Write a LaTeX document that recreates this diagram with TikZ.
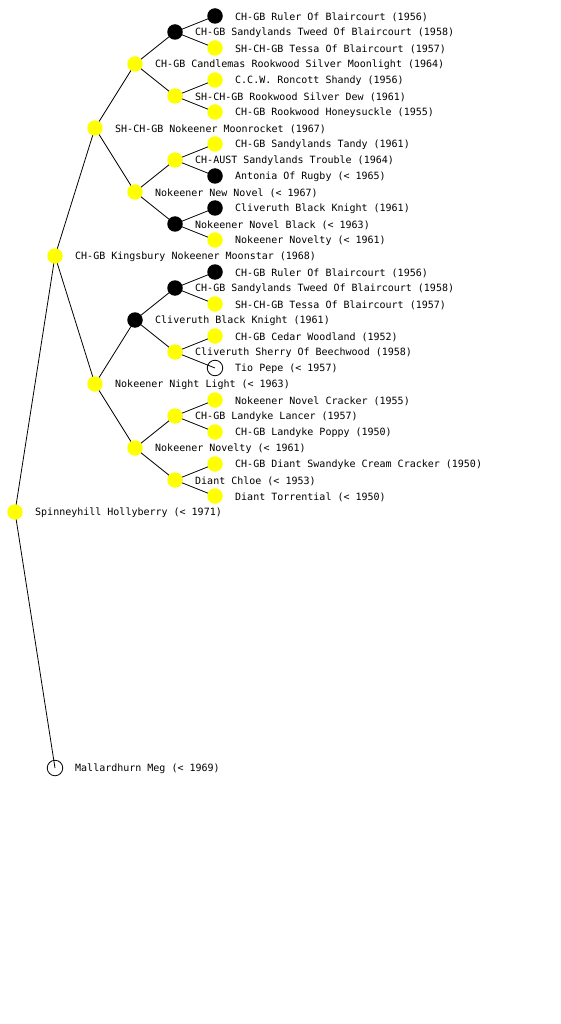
\documentclass[tikz,border=0pt]{standalone}
\usepackage{fontspec}
\setmonofont{DejaVu Sans Mono}
\pgfdeclarelayer{bg}
\pgfsetlayers{bg,main}
\definecolor{dogyellow}{RGB}{255,255,0}
\tikzset{
  dot/.style={circle,minimum size=15.5pt,inner sep=0pt,outer sep=0pt},
  ydot/.style={dot,fill=dogyellow},
  bdot/.style={dot,fill=black},
  wdot/.style={dot,draw=black,line width=0.8pt},
  lbl/.style={anchor=west,inner sep=0pt,font=\ttfamily\fontsize{10pt}{10pt}\selectfont},
  edge/.style={draw=black,line width=0.8pt}
}
\begin{document}
\begin{tikzpicture}[x=1pt,y=-1pt]
\useasboundingbox (0,0) rectangle (560,1024);
% root
\node[ydot] (r) at (15,512) {};
% gen1
\node[ydot] (a1) at (55,256) {};
\node[wdot] (a2) at (55,768) {};
% gen2
\node[ydot] (b1) at (95,128) {};
\node[ydot] (b2) at (95,384) {};
% gen3
\node[ydot] (c1) at (135,64) {};
\node[ydot] (c2) at (135,192) {};
\node[bdot] (c3) at (135,320) {};
\node[ydot] (c4) at (135,448) {};
% gen4
\node[bdot] (d1) at (175,32) {};
\node[ydot] (d2) at (175,96) {};
\node[ydot] (d3) at (175,160) {};
\node[bdot] (d4) at (175,224) {};
\node[bdot] (d5) at (175,288) {};
\node[ydot] (d6) at (175,352) {};
\node[ydot] (d7) at (175,416) {};
\node[ydot] (d8) at (175,480) {};
% gen5
\node[bdot] (e1) at (215,16) {};
\node[ydot] (e2) at (215,48) {};
\node[ydot] (e3) at (215,80) {};
\node[ydot] (e4) at (215,112) {};
\node[ydot] (e5) at (215,144) {};
\node[bdot] (e6) at (215,176) {};
\node[bdot] (e7) at (215,208) {};
\node[ydot] (e8) at (215,240) {};
\node[bdot] (e9) at (215,272) {};
\node[ydot] (e10) at (215,304) {};
\node[ydot] (e11) at (215,336) {};
\node[wdot] (e12) at (215,368) {};
\node[ydot] (e13) at (215,400) {};
\node[ydot] (e14) at (215,432) {};
\node[ydot] (e15) at (215,464) {};
\node[ydot] (e16) at (215,496) {};
% connectors
\begin{pgfonlayer}{bg}
\foreach \p/\c in {r/a1,r/a2,a1/b1,a1/b2,b1/c1,b1/c2,b2/c3,b2/c4,
  c1/d1,c1/d2,c2/d3,c2/d4,c3/d5,c3/d6,c4/d7,c4/d8,
  d1/e1,d1/e2,d2/e3,d2/e4,d3/e5,d3/e6,d4/e7,d4/e8,
  d5/e9,d5/e10,d6/e11,d6/e12,d7/e13,d7/e14,d8/e15,d8/e16}
  \draw[edge] (\p.center) -- (\c.center);
\end{pgfonlayer}
% labels
\node[lbl] (lr) at (35,513) {Spinneyhill Hollyberry (< 1971)};
\node[lbl] (la1) at (75,257) {CH-GB Kingsbury Nokeener Moonstar (1968)};
\node[lbl] (la2) at (75,769) {Mallardhurn Meg (< 1969)};
\node[lbl] (lb1) at (115,129) {SH-CH-GB Nokeener Moonrocket (1967)};
\node[lbl] (lb2) at (115,385) {Nokeener Night Light (< 1963)};
\node[lbl] (lc1) at (155,65) {CH-GB Candlemas Rookwood Silver Moonlight (1964)};
\node[lbl] (lc2) at (155,193) {Nokeener New Novel (< 1967)};
\node[lbl] (lc3) at (155,321) {Cliveruth Black Knight (1961)};
\node[lbl] (lc4) at (155,449) {Nokeener Novelty (< 1961)};
\node[lbl] (ld1) at (195,33) {CH-GB Sandylands Tweed Of Blaircourt (1958)};
\node[lbl] (ld2) at (195,97) {SH-CH-GB Rookwood Silver Dew (1961)};
\node[lbl] (ld3) at (195,161) {CH-AUST Sandylands Trouble (1964)};
\node[lbl] (ld4) at (195,225) {Nokeener Novel Black (< 1963)};
\node[lbl] (ld5) at (195,289) {CH-GB Sandylands Tweed Of Blaircourt (1958)};
\node[lbl] (ld6) at (195,353) {Cliveruth Sherry Of Beechwood (1958)};
\node[lbl] (ld7) at (195,417) {CH-GB Landyke Lancer (1957)};
\node[lbl] (ld8) at (195,481) {Diant Chloe (< 1953)};
\node[lbl] (le1) at (235,17) {CH-GB Ruler Of Blaircourt (1956)};
\node[lbl] (le2) at (235,49) {SH-CH-GB Tessa Of Blaircourt (1957)};
\node[lbl] (le3) at (235,81) {C.C.W. Roncott Shandy (1956)};
\node[lbl] (le4) at (235,113) {CH-GB Rookwood Honeysuckle (1955)};
\node[lbl] (le5) at (235,145) {CH-GB Sandylands Tandy (1961)};
\node[lbl] (le6) at (235,177) {Antonia Of Rugby (< 1965)};
\node[lbl] (le7) at (235,209) {Cliveruth Black Knight (1961)};
\node[lbl] (le8) at (235,241) {Nokeener Novelty (< 1961)};
\node[lbl] (le9) at (235,273) {CH-GB Ruler Of Blaircourt (1956)};
\node[lbl] (le10) at (235,305) {SH-CH-GB Tessa Of Blaircourt (1957)};
\node[lbl] (le11) at (235,337) {CH-GB Cedar Woodland (1952)};
\node[lbl] (le12) at (235,369) {Tio Pepe (< 1957)};
\node[lbl] (le13) at (235,401) {Nokeener Novel Cracker (1955)};
\node[lbl] (le14) at (235,433) {CH-GB Landyke Poppy (1950)};
\node[lbl] (le15) at (235,465) {CH-GB Diant Swandyke Cream Cracker (1950)};
\node[lbl] (le16) at (235,497) {Diant Torrential (< 1950)};
\end{tikzpicture}
\end{document}
